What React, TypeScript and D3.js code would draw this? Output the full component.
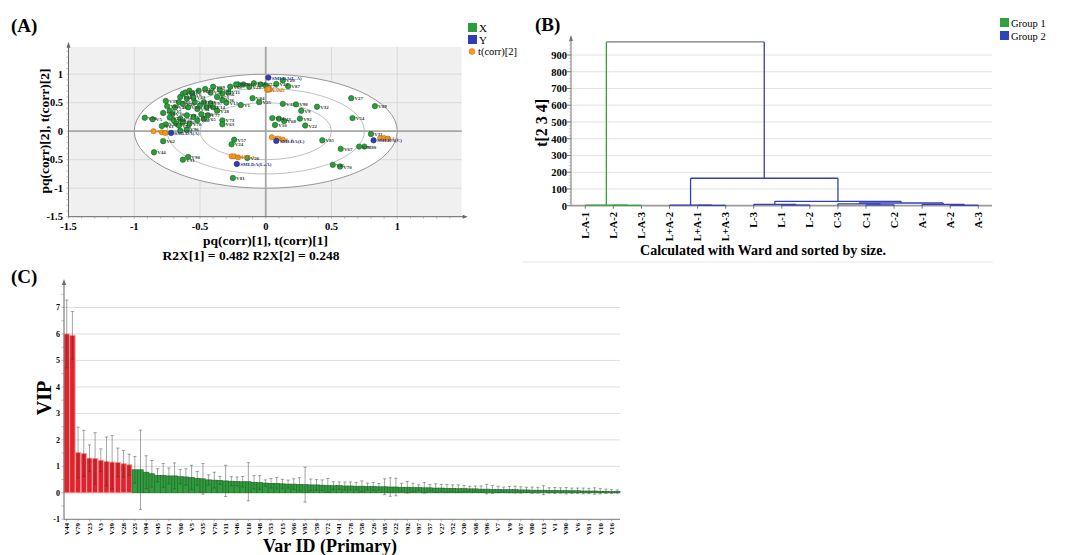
import React from "react";
import * as d3 from "d3";

const FONT = "'Liberation Serif','Times New Roman',serif";

// ---------- (A) loading / score plot ----------
const xLoadings: [string, number, number][] = [
  ["V27", 0.65, 0.58], ["V89", 0.83, 0.44], ["V54", 0.66, 0.23], ["V31", 0.8, -0.05],
  ["V80", 0.75, -0.27], ["V93", 0.71, -0.27], ["V67", 0.57, -0.31], ["V70", 0.565, -0.62],
  ["V45", 0.51, -0.59], ["V85", 0.43, -0.16], ["V32", 0.39, 0.43], ["V9", 0.27, 0.36],
  ["V98", 0.23, 0.47], ["V35", 0.13, 0.48], ["V92", 0.26, 0.22], ["V22", 0.3, 0.1],
  ["V12", 0.05, 0.23], ["V43", 0.1, 0.22], ["V68", 0.14, 0.18], ["V10", 0.07, 0.11],
  ["V87", 0.17, 0.79], ["V42", 0.08, 0.83], ["V20", 0.13, 0.89], ["V25", -0.05, 0.51],
  ["V84", -0.1, 0.58], ["V1", -0.19, 0.46], ["V13", -0.3, 0.5], ["V57", -0.24, -0.15],
  ["V24", -0.26, -0.23], ["V26", -0.14, -0.47], ["V81", -0.25, -0.82], ["V90", -0.59, -0.45],
  ["V91", -0.63, -0.5], ["V44", -0.85, -0.37], ["V62", -0.78, -0.175], ["V73", -0.33, 0.19],
  ["V63", -0.33, 0.12], ["V58", -0.09, 0.84], ["V47", -0.04, 0.82], ["V21", -0.125, 0.78],
  ["V17", -0.17, 0.82], ["V50", -0.21, 0.82], ["V37", -0.226, 0.82], ["V69", -0.27, 0.78],
  ["V11", -0.284, 0.68], ["V56", -0.33, 0.66], ["V41", -0.35, 0.73], ["V29", -0.4, 0.78],
  ["V51", -0.42, 0.68], ["V53", -0.37, 0.6], ["V36", -0.33, 0.55], ["V75", 0.0, 0.8],
  ["V4", -0.46, 0.74], ["V64", -0.51, 0.71], ["V74", -0.92, 0.235], ["V5", -0.86, 0.21],
  ["V39", -0.76, 0.53], ["V16", -0.78, 0.32], ["V79", -0.76, 0.12], ["V61", -0.79, 0.09],
  ["V15", -0.73, 0.36], ["V30", -0.71, 0.3], ["V46", -0.69, 0.42], ["V66", -0.66, 0.51],
  ["V48", -0.65, 0.6], ["V18", -0.63, 0.66], ["V3", -0.61, 0.68], ["V7", -0.58, 0.71],
  ["V6", -0.56, 0.66], ["V2", -0.6, 0.57], ["V40", -0.63, 0.48], ["V95", -0.59, 0.42],
  ["V33", -0.54, 0.51], ["V34", -0.52, 0.39], ["V38", -0.5, 0.45], ["V49", -0.47, 0.51],
  ["V52", -0.45, 0.42], ["V28", -0.37, 0.36], ["V14", -0.4, 0.42], ["V55", -0.49, 0.3],
  ["V19", -0.55, 0.25], ["V8", -0.6, 0.28], ["V59", -0.65, 0.22], ["V60", -0.7, 0.19],
  ["V71", -0.73, 0.24], ["V72", -0.68, 0.13], ["V76", -0.63, 0.16], ["V78", -0.58, 0.13],
  ["V86", -0.52, 0.19], ["V65", -0.47, 0.22], ["V77", -0.44, 0.28], ["V23", -0.65, 0.01],
  ["V94", -0.66, 0.1], ["V96", -0.6, 0.03], ["V97", -0.42, 0.49], ["V83", -0.55, 0.6],
  ["V82", -0.75, 0.44],
];
const yLoadings: [string, number, number][] = [
  ["SMLDA(L-A)", 0.02, 0.94], ["SMLDA(A)", -0.72, -0.03], ["SMLDA(L)", 0.08, -0.17],
  ["SMLDA(C)", 0.82, -0.16], ["SMLDA(L+A)", -0.22, -0.575],
];
const scores: [string, number, number][] = [
  ["A-1", -0.854, 0.0], ["A-2", -0.79, -0.02], ["A-3", -0.765, -0.03],
  ["L-A-1", 0.01, 0.725], ["L-A-2", 0.03, 0.73], ["L-A-3", 0.02, 0.74],
  ["L-1", 0.046, -0.105], ["L-2", 0.09, -0.13], ["L-3", 0.13, -0.15],
  ["L+A-1", -0.26, -0.44], ["L+A-2", -0.24, -0.44], ["L+A-3", -0.21, -0.46],
  ["C-1", 0.87, -0.12], ["C-2", 0.9, -0.12], ["C-3", 0.93, -0.13],
];
const ellipseRadii = [1, 0.75, 0.5];
const aTicks = [-1.5, -1, -0.5, 0, 0.5, 1];

// ---------- (B) dendrogram ----------
const leaves = ["L-A-1", "L-A-2", "L-A-3", "L+A-2", "L+A-1", "L+A-3", "L-3", "L-1", "L-2", "C-3", "C-1", "C-2", "A-1", "A-2", "A-3"];
const bTicks = [0, 100, 200, 300, 400, 500, 600, 700, 800, 900];
type TNode = { name?: string; h?: number; grp?: number; children?: TNode[] };
const dendro: TNode = {
  h: 978,
  children: [
    { h: 4, grp: 1, children: [{ name: "L-A-1" }, { h: 2, children: [{ name: "L-A-2" }, { name: "L-A-3" }] }] },
    {
      h: 164, grp: 2,
      children: [
        { h: 4, children: [{ name: "L+A-2" }, { h: 2, children: [{ name: "L+A-1" }, { name: "L+A-3" }] }] },
        {
          h: 26,
          children: [
            { h: 8, children: [{ name: "L-3" }, { h: 4, children: [{ name: "L-1" }, { name: "L-2" }] }] },
            {
              h: 16,
              children: [
                { h: 11, children: [{ name: "C-3" }, { h: 5, children: [{ name: "C-1" }, { name: "C-2" }] }] },
                { h: 8, children: [{ name: "A-1" }, { h: 3, children: [{ name: "A-2" }, { name: "A-3" }] }] },
              ],
            },
          ],
        },
      ],
    },
  ],
};

// ---------- (C) VIP ----------
const vipNames = [
  "V44", "V62", "V79", "V89", "V23", "V70", "V3", "V54", "V39", "V31", "V28", "V87", "V25", "V81",
  "V94", "V29", "V45", "V12", "V71", "V32", "V60", "V84", "V5", "V24", "V35", "V98", "V76", "V51",
  "V11", "V2", "V46", "V20", "V18", "V4", "V48", "V37", "V53", "V64", "V15", "V19", "V66", "V8",
  "V95", "V33", "V59", "V14", "V72", "V47", "V41", "V73", "V78", "V21", "V58", "V40", "V26", "V55",
  "V85", "V36", "V22", "V17", "V92", "V42", "V97", "V65", "V57", "V49", "V27", "V74", "V52", "V38",
  "V30", "V63", "V68", "V34", "V96", "V50", "V7", "V86", "V9", "V43", "V67", "V69", "V80", "V75",
  "V13", "V56", "V1", "V83", "V90", "V77", "V6", "V93", "V61", "V82", "V10", "V88", "V16", "V91",
];
const vipValues = [
  6.0, 5.95, 1.52, 1.49, 1.31, 1.3, 1.23, 1.19, 1.16, 1.15, 1.1, 1.06, 0.87, 0.87,
  0.78, 0.72, 0.66, 0.66, 0.64, 0.64, 0.61, 0.6, 0.58, 0.55, 0.53, 0.49, 0.48, 0.47,
  0.45, 0.44, 0.43, 0.42, 0.42, 0.4, 0.39, 0.37, 0.36, 0.36, 0.34, 0.33, 0.33, 0.32,
  0.31, 0.3, 0.3, 0.29, 0.28, 0.27, 0.27, 0.26, 0.26, 0.25, 0.25, 0.24, 0.24, 0.23,
  0.23, 0.22, 0.22, 0.21, 0.21, 0.2, 0.2, 0.19, 0.19, 0.18, 0.18, 0.17, 0.17, 0.16,
  0.16, 0.15, 0.15, 0.14, 0.14, 0.13, 0.13, 0.12, 0.12, 0.12, 0.11, 0.11, 0.1, 0.1,
  0.1, 0.09, 0.09, 0.09, 0.08, 0.08, 0.08, 0.07, 0.07, 0.07, 0.06, 0.06, 0.05, 0.05,
];
const vipErrors = [
  1.28, 0.9, 0.96, 0.87, 0.5, 0.97, 0.43, 0.92, 1.0, 0.54, 0.5, 0.4, 0.5, 1.5,
  0.62, 0.5, 0.25, 0.45, 0.3, 0.49, 0.27, 0.31, 0.46, 0.26, 0.58, 0.19, 0.3, 0.15,
  0.59, 0.17, 0.17, 0.2, 0.72, 0.25, 0.26, 0.12, 0.18, 0.22, 0.17, 0.15, 0.2, 0.25,
  0.66, 0.22, 0.2, 0.2, 0.26, 0.15, 0.14, 0.15, 0.15, 0.14, 0.2, 0.13, 0.15, 0.12,
  0.3, 0.35, 0.33, 0.15, 0.22, 0.16, 0.1, 0.2, 0.12, 0.16, 0.14, 0.15, 0.13, 0.14,
  0.12, 0.1, 0.11, 0.12, 0.18, 0.15, 0.12, 0.1, 0.12, 0.13, 0.12, 0.1, 0.12, 0.11,
  0.17, 0.1, 0.11, 0.1, 0.12, 0.1, 0.1, 0.11, 0.1, 0.12, 0.1, 0.08, 0.07, 0.06,
];
const vipRedCount = 12;
const cTicks = [-1, 0, 1, 2, 3, 4, 5, 6, 7];

const GREEN = "#2a9d3c";
const GREEN_DARK = "#12611f";
const BLUE = "#2f3fb3";
const ORANGE = "#f59a23";

export default function App() {
  // ----- A -----
  const xA = d3.scaleLinear().domain([-1.5, 1.5]).range([68.5, 463]);
  const yA = d3.scaleLinear().domain([-1.5, 1.5]).range([216.7, 45.7]);
  const aTop = yA(1.48);
  const aRight = xA(1.49);

  // ----- B -----
  const xB = d3.scalePoint<string>().domain(leaves).range([585.3, 978.3]);
  const yB = d3.scaleLinear().domain([0, 900]).range([205.7, 55]);
  const bLeft = 571, bRight = 992;
  const root: any = d3.hierarchy<TNode>(dendro);
  root.eachAfter((n: any) => {
    if (!n.children) { n.px = xB(n.data.name); n.py = 0; }
    else { n.px = (n.children[0].px + n.children[n.children.length - 1].px) / 2; n.py = n.data.h; }
  });
  const grpOf = (n: any): number => {
    let c = n;
    while (c) { if (c.data.grp) return c.data.grp; c = c.parent; }
    return 0;
  };
  const grpColor = (g: number) => (g === 1 ? "#33a33a" : g === 2 ? "#3340b0" : "#777");
  const dLines: { x1: number; y1: number; x2: number; y2: number; c: string }[] = [];
  root.each((n: any) => {
    if (!n.children) return;
    const first = n.children[0], last = n.children[n.children.length - 1];
    dLines.push({ x1: first.px, x2: last.px, y1: yB(n.py), y2: yB(n.py), c: grpColor(grpOf(n)) });
    n.children.forEach((c: any) => {
      dLines.push({ x1: c.px, x2: c.px, y1: yB(c.py), y2: yB(n.py), c: grpColor(grpOf(c)) });
    });
  });

  // ----- C -----
  const xC = d3.scaleBand<string>().domain(vipNames).range([64, 620]).paddingInner(0.04);
  const yC = d3.scaleLinear().domain([-1, 7]).range([519.3, 307.5]);
  const bw = xC.bandwidth();
  const cMinor = d3.range(-1, 7.51, 0.5);
  const bMinor = d3.range(0, 981, 20);

  return (
    <svg width={1070} height={555} style={{ position: "absolute", left: 0, top: 0, background: "#fff" }} fontFamily={FONT}>
      {/* ================= A ================= */}
      <text x={11} y={32} fontSize={19} fontWeight="bold">(A)</text>
      <rect x={xA(-1.5)} y={aTop} width={aRight - xA(-1.5)} height={yA(-1.5) - aTop} fill="#f0f0f0" />
      {[-1, -0.5, 0.5, 1].map((v) => (
        <line key={"gx" + v} x1={xA(v)} x2={xA(v)} y1={aTop} y2={yA(-1.5)} stroke="#d9d9d9" strokeWidth={1} />
      ))}
      {[-1, -0.5, 0.5, 1].map((v) => (
        <line key={"gy" + v} x1={xA(-1.5)} x2={aRight} y1={yA(v)} y2={yA(v)} stroke="#d9d9d9" strokeWidth={1} />
      ))}
      <ellipse cx={xA(0)} cy={yA(0)} rx={xA(1) - xA(0)} ry={yA(0) - yA(1)} fill="#fff" stroke="#8a8a8a" strokeWidth={0.9} />
      {ellipseRadii.slice(1).map((r) => (
        <ellipse key={"e" + r} cx={xA(0)} cy={yA(0)} rx={xA(r) - xA(0)} ry={yA(0) - yA(r)} fill="none" stroke="#b0b0b0" strokeWidth={0.8} />
      ))}
      <line x1={xA(0)} x2={xA(0)} y1={aTop} y2={yA(-1.5)} stroke="#a6a6a6" strokeWidth={1.8} />
      <line x1={xA(-1.5)} x2={aRight} y1={yA(0)} y2={yA(0)} stroke="#a6a6a6" strokeWidth={1.8} />
      {/* axes */}
      <line x1={xA(-1.5)} x2={xA(-1.5)} y1={aTop - 3} y2={yA(-1.5)} stroke="#666" />
      <line x1={xA(-1.5)} x2={aRight + 3} y1={yA(-1.5)} y2={yA(-1.5)} stroke="#666" />
      <polygon points={`${xA(-1.5) - 2},${aTop + 1} ${xA(-1.5) + 2},${aTop + 1} ${xA(-1.5)},${aTop - 5}`} fill="#666" />
      <polygon points={`${aRight + 1},${yA(-1.5) - 2} ${aRight + 1},${yA(-1.5) + 2} ${aRight + 6},${yA(-1.5)}`} fill="#666" />
      {d3.range(-1.5, 1.41, 0.1).map((v, i) => (
        <line key={"mx" + i} x1={xA(v)} x2={xA(v)} y1={yA(-1.5)} y2={yA(-1.5) + 2} stroke="#888" strokeWidth={0.6} />
      ))}
      {d3.range(-1.5, 1.41, 0.1).map((v, i) => (
        <line key={"my" + i} x1={xA(-1.5) - 2} x2={xA(-1.5)} y1={yA(v)} y2={yA(v)} stroke="#888" strokeWidth={0.6} />
      ))}
      {aTicks.map((v) => (
        <text key={"ax" + v} x={xA(v)} y={230} fontSize={10.5} fontWeight="bold" textAnchor="middle">{String(v)}</text>
      ))}
      {aTicks.map((v) => (
        <text key={"ay" + v} x={63} y={yA(v) + 3.5} fontSize={10.5} fontWeight="bold" textAnchor="end">{String(v)}</text>
      ))}
      <text x={265.5} y={245} fontSize={13.5} fontWeight="bold" textAnchor="middle">pq(corr)[1], t(corr)[1]</text>
      <text x={251} y={260} fontSize={13.5} fontWeight="bold" textAnchor="middle">R2X[1] = 0.482 R2X[2] = 0.248</text>
      <text transform="translate(49,131) rotate(-90)" fontSize={13.5} fontWeight="bold" textAnchor="middle">pq(corr)[2], t(corr)[2]</text>
      {/* points */}
      {xLoadings.map(([n, x, y], i) => (
        <circle key={"g" + i} cx={xA(x)} cy={yA(y)} r={2.7} fill={GREEN} stroke={GREEN_DARK} strokeWidth={0.6} />
      ))}
      {xLoadings.map(([n, x, y], i) => (
        <text key={"gt" + i} x={xA(x) + 3.2} y={yA(y) + 2} fontSize={5} fontWeight="bold" fill="#2f3f2f">{n}</text>
      ))}
      {scores.map(([n, x, y], i) => (
        <circle key={"o" + i} cx={xA(x)} cy={yA(y)} r={2.6} fill={ORANGE} stroke="#c06a08" strokeWidth={0.6} />
      ))}
      {scores.map(([n, x, y], i) => (
        <text key={"ot" + i} x={xA(x) + 3} y={yA(y) + 2} fontSize={4.8} fontWeight="bold" fill="#d27a10">{n}</text>
      ))}
      {yLoadings.map(([n, x, y], i) => (
        <circle key={"b" + i} cx={xA(x)} cy={yA(y)} r={2.7} fill={BLUE} stroke="#1b2580" strokeWidth={0.6} />
      ))}
      {yLoadings.map(([n, x, y], i) => (
        <text key={"bt" + i} x={xA(x) + 3.4} y={yA(y) + 2} fontSize={5} fontWeight="bold" fill="#26308a">{n}</text>
      ))}
      {/* legend A */}
      <rect x={468} y={23} width={9} height={9} fill={GREEN} />
      <text x={479} y={31.5} fontSize={11}>X</text>
      <rect x={468} y={35} width={9} height={9} fill={BLUE} />
      <text x={479} y={43.5} fontSize={11}>Y</text>
      <circle cx={472} cy={51.5} r={3} fill={ORANGE} stroke="#c06a08" strokeWidth={0.5} />
      <text x={478} y={55} fontSize={10.5}>t(corr)[2]</text>

      {/* ================= B ================= */}
      <text x={535} y={31} fontSize={19} fontWeight="bold">(B)</text>
      {bTicks.slice(1).map((v) => (
        <line key={"bg" + v} x1={bLeft} x2={bRight} y1={yB(v)} y2={yB(v)} stroke="#e2e2e2" strokeWidth={1} />
      ))}
      <line x1={bLeft} x2={bLeft} y1={yB(0)} y2={37} stroke="#777" />
      <polygon points={`${bLeft - 2},${41} ${bLeft + 2},${41} ${bLeft},${35}`} fill="#777" />
      {bMinor.map((v) => (
        <line key={"bm" + v} x1={bLeft - 2} x2={bLeft} y1={yB(v)} y2={yB(v)} stroke="#999" strokeWidth={0.5} />
      ))}
      {bTicks.map((v) => (
        <g key={"bt" + v}>
          <line x1={bLeft - 4} x2={bLeft} y1={yB(v)} y2={yB(v)} stroke="#777" />
          <text x={567} y={yB(v) + 3.8} fontSize={10.5} fontWeight="bold" textAnchor="end">{v}</text>
        </g>
      ))}
      <line x1={bLeft} x2={bRight} y1={yB(0)} y2={yB(0)} stroke="#999" strokeWidth={1.8} />
      {leaves.map((l) => (
        <line key={"lt" + l} x1={xB(l)} x2={xB(l)} y1={yB(0)} y2={yB(0) + 3} stroke="#777" />
      ))}
      {dLines.map((l, i) => (
        <line key={"d" + i} x1={l.x1} x2={l.x2} y1={l.y1} y2={l.y2} stroke={l.c} strokeWidth={1.3} />
      ))}
      {leaves.map((l) => (
        <text key={"ll" + l} transform={`translate(${(xB(l) as number) + 3.5},212) rotate(-90)`} fontSize={10.5} fontWeight="bold" textAnchor="end">{l}</text>
      ))}
      <text transform="translate(547,123) rotate(-90)" fontSize={16} fontWeight="bold" textAnchor="middle">t[2 3 4]</text>
      <text x={763} y={255} fontSize={14} fontWeight="bold" textAnchor="middle">Calculated with Ward and sorted by size.</text>
      <line x1={522} x2={993} y1={262} y2={262} stroke="#e6e6e6" strokeWidth={1} />
      <rect x={1000} y={18} width={9} height={9} fill="#2fa33f" />
      <text x={1011} y={26.5} fontSize={10.5}>Group 1</text>
      <rect x={1000} y={31} width={9} height={9} fill="#3045b5" />
      <text x={1011} y={39.5} fontSize={10.5}>Group 2</text>

      {/* ================= C ================= */}
      <text x={11} y={283} fontSize={19} fontWeight="bold">(C)</text>
      {cTicks.filter((v) => v > 0).map((v) => (
        <line key={"cg" + v} x1={64} x2={620} y1={yC(v)} y2={yC(v)} stroke="#dedede" strokeWidth={1} />
      ))}
      <line x1={64} x2={620} y1={yC(0)} y2={yC(0)} stroke="#e8e8e8" strokeWidth={1} />
      {vipNames.map((n, i) => {
        const v = vipValues[i];
        const red = i < vipRedCount;
        return (
          <rect key={"vb" + n} x={xC(n)} y={yC(v)} width={bw} height={yC(0) - yC(v)}
            fill={red ? "#e3232b" : "#2f9e3d"} stroke={red ? "#f3a0a2" : "#18661f"} strokeWidth={red ? 0.9 : 0.6} />
        );
      })}
      {vipNames.map((n, i) => {
        const cx = (xC(n) as number) + bw / 2;
        const lo = yC(vipValues[i] - vipErrors[i]);
        const hi = yC(vipValues[i] + vipErrors[i]);
        return (
          <g key={"ve" + n} stroke="#333" strokeOpacity={0.55} strokeWidth={0.8}>
            <line x1={cx} x2={cx} y1={lo} y2={hi} />
            <line x1={cx - 1.6} x2={cx + 1.6} y1={hi} y2={hi} />
            <line x1={cx - 1.6} x2={cx + 1.6} y1={lo} y2={lo} />
          </g>
        );
      })}
      <line x1={64} x2={64} y1={yC(-1)} y2={283} stroke="#666" />
      <polygon points={`62,285 66,285 64,279`} fill="#666" />
      <line x1={64} x2={620} y1={yC(-1)} y2={yC(-1)} stroke="#777" />
      {cMinor.map((v, i) => (
        <line key={"cm" + i} x1={61.5} x2={64} y1={yC(v)} y2={yC(v)} stroke="#888" strokeWidth={0.6} />
      ))}
      {cTicks.map((v) => (
        <text key={"ct" + v} x={60} y={yC(v) + 2.8} fontSize={8} fontWeight="bold" textAnchor="end">{v}</text>
      ))}
      {vipNames.map((n, i) =>
        i % 2 === 0 ? (
          <g key={"vl" + n}>
            <line x1={(xC(n) as number) + bw / 2} x2={(xC(n) as number) + bw / 2} y1={yC(-1)} y2={yC(-1) + 2} stroke="#777" strokeWidth={0.6} />
            <text transform={`translate(${(xC(n) as number) + bw / 2 + 2.3},523) rotate(-90)`} fontSize={7} fontWeight="bold" textAnchor="end">{n}</text>
          </g>
        ) : null
      )}
      <text transform="translate(51,398) rotate(-90)" fontSize={20} fontWeight="bold" textAnchor="middle">VIP</text>
      <text x={330} y={552} fontSize={18} fontWeight="bold" textAnchor="middle">Var ID (Primary)</text>
    </svg>
  );
}
